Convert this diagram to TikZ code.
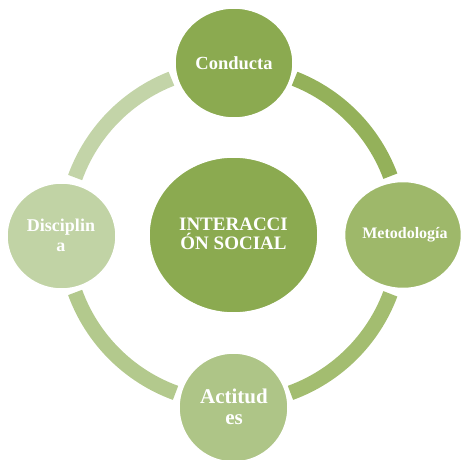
\documentclass[tikz,border=0pt]{standalone}
\usepackage{fontspec}
\setmainfont{Liberation Serif}
\usetikzlibrary{shapes.geometric}
\definecolor{cCore}{HTML}{8BAA50}
\definecolor{cTop}{HTML}{8BAA50}
\definecolor{cRight}{HTML}{9EB86A}
\definecolor{cBottom}{HTML}{AEC587}
\definecolor{cLeft}{HTML}{C1D3A5}
\definecolor{aTR}{HTML}{94B15A}
\definecolor{aRB}{HTML}{A3BD70}
\definecolor{aBL}{HTML}{B3C98D}
\definecolor{aLT}{HTML}{C3D4A8}
\begin{document}
\begin{tikzpicture}[x=1pt,y=1pt,
  bub/.style={ellipse, inner sep=0pt, draw=white, line width=1.5pt},
  lbl/.style={text=white, align=center, inner sep=0pt},
  ringarc/.style={line width=15pt, line cap=butt}]
\useasboundingbox (0,0) rectangle (461,459);
\clip (0,0) rectangle (461,459);
\coordinate (c) at (233,224);
% ring segments
\draw[ringarc, aTR] ([shift={(20.5:168)}]c) arc[start angle=20.5, end angle=68.5, radius=168];
\draw[ringarc, aLT] ([shift={(111.5:168)}]c) arc[start angle=111.5, end angle=160, radius=168];
\draw[ringarc, aBL] ([shift={(200:168)}]c) arc[start angle=200, end angle=250, radius=168];
\draw[ringarc, aRB] ([shift={(290:168)}]c) arc[start angle=290, end angle=339.5, radius=168];
% bubbles
\node[bub, fill=cCore, minimum width=169pt, minimum height=156pt] (core) at (233.5,224) {};
\node[bub, fill=cTop, minimum width=118pt, minimum height=110pt] (top) at (234,396) {};
\node[bub, fill=cRight, minimum width=117pt, minimum height=107pt] (right) at (403,224) {};
\node[bub, fill=cBottom, minimum width=109pt, minimum height=109pt] (bottom) at (233.5,51.5) {};
\node[bub, fill=cLeft, minimum width=109pt, minimum height=106pt] (left) at (61.5,223) {};
% labels
\node[lbl, font=\bfseries\fontsize{19}{19.5}\selectfont] (coretxt) at (233.5,225) {INTERACCI\\ÓN SOCIAL};
\node[lbl, font=\bfseries\fontsize{18.5}{20}\selectfont] (toptxt) at (234,396) {Conducta};
\node[lbl, font=\bfseries\fontsize{16}{18}\selectfont] (righttxt) at (405,224) {Metodología};
\node[lbl, font=\bfseries\fontsize{21}{21.5}\selectfont] (bottomtxt) at (234,52) {Actitud\\es};
\node[lbl, font=\bfseries\fontsize{18}{20}\selectfont] (lefttxt) at (61,224) {Disciplin\\a};
\end{tikzpicture}
\end{document}
